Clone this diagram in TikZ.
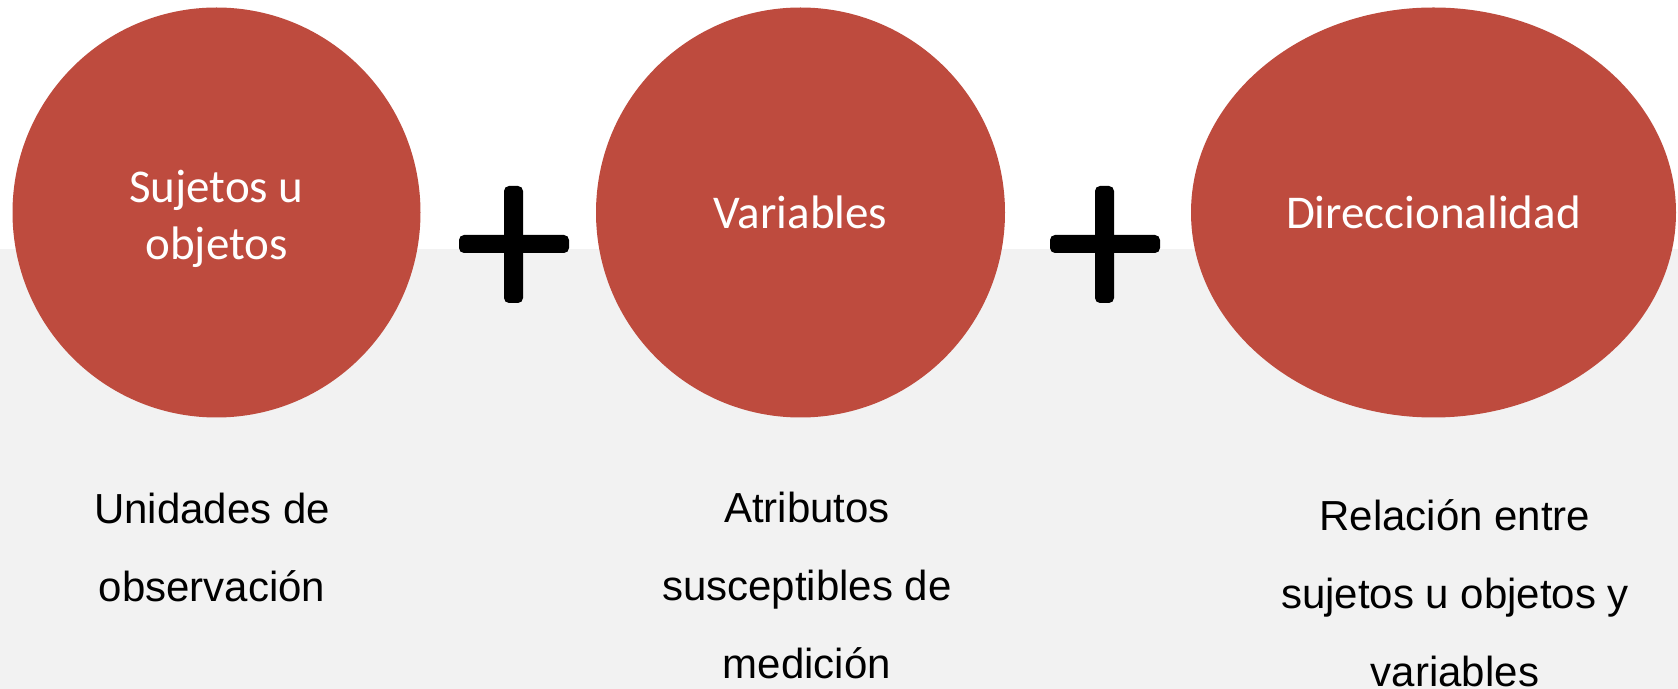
\documentclass[tikz,border=0pt]{standalone}
\usepackage{fontspec}
\setmainfont{Liberation Sans}
\newfontfamily\calib{Carlito}
\usetikzlibrary{shapes.geometric}
\definecolor{bubble}{RGB}{190,75,62}
\definecolor{lowbg}{RGB}{242,242,242}
\tikzset{
  bubblebox/.style={ellipse, fill=bubble, draw=none, inner sep=0pt, text=white, align=center,
    font=\calib\fontsize{23.5pt}{28.5pt}\selectfont, minimum height=205pt},
  caption/.style={align=center, text=black, inner sep=0pt,
    font=\fontsize{21pt}{39pt}\selectfont},
  plusbar/.style={fill=black, rounded corners=2.5pt}
}
\begin{document}
\begin{tikzpicture}[x=0.5pt,y=-0.5pt]
\useasboundingbox (0,0) rectangle (1678,689);
\fill[white] (0,0) rectangle (1678,249);
\fill[lowbg] (0,249) rectangle (1678,689);

\node[bubblebox, minimum width=204pt] (s) at (216.5,212.5) {};
\node[text=white, align=center, inner sep=0pt, font=\calib\fontsize{23.5pt}{28.5pt}\selectfont] (st) at (s.center) [yshift=-3pt] {Sujetos u\\objetos};
\node[bubblebox, minimum width=204.5pt] (v) at (800.5,212.5) {Variables};
\node[bubblebox, minimum width=242.5pt] (d) at (1433.5,212.5) {Direccionalidad};

% plus signs
\fill[plusbar] (459,235) rectangle (569,253);
\fill[plusbar] (504,186) rectangle (523,303);
\fill[plusbar] (1050,235) rectangle (1160,253);
\fill[plusbar] (1095,186) rectangle (1114,303);

\node[caption] (cs) at (212,547) {Unidades de\\observación};
\node[caption] (cv) at (807,585) {Atributos\\susceptibles de\\medición};
\node[caption] (cd) at (1455,593) {Relación entre\\sujetos u objetos y\\variables};
\end{tikzpicture}
\end{document}
